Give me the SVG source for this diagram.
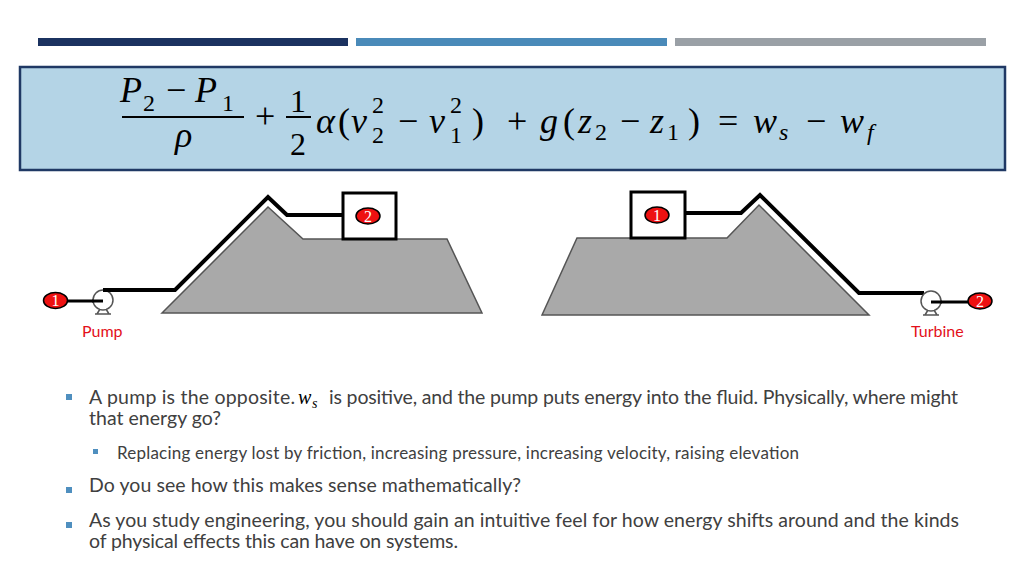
<svg xmlns="http://www.w3.org/2000/svg" width="1024" height="576" viewBox="0 0 1024 576">
<style>
.bar{stroke:none}
.m{font-family:"Liberation Serif","DejaVu Serif",serif;font-size:36px;fill:#000}
.i{font-style:italic}
.s{font-size:24px}
.h{font-size:32px}
.hill{fill:#a9a9a9;stroke:#555;stroke-width:1.5;stroke-linejoin:miter}
.pipe{fill:none;stroke:#000;stroke-width:4;stroke-linejoin:miter}
.tank{fill:#fff;stroke:#000;stroke-width:3}
.pt{fill:#ee1111;stroke:#000;stroke-width:1.5}
.ptn{font-family:"Liberation Serif","DejaVu Serif",serif;font-size:16px;fill:#fff;text-anchor:middle}
.lbl{font-family:"Lato","Open Sans",sans-serif;font-size:16px;fill:#e3101a}
.pump{fill:#fff;stroke:#555;stroke-width:1.5}
.stand{fill:none;stroke:#555;stroke-width:1.5}
.tx{font-family:"Lato","Open Sans",sans-serif;font-size:19.5px;fill:#404040}
.tx2{font-family:"Lato","Open Sans",sans-serif;font-size:17px;fill:#404040}
.bul{fill:#4f8fbf}
</style>

<g id="header-bars">
<rect class="bar" x="38" y="38" width="310" height="8" fill="#1b3260"/>
<rect class="bar" x="356" y="38" width="311" height="8" fill="#4a8ab9"/>
<rect class="bar" x="675" y="38" width="311" height="8" fill="#9aa0a6"/>
</g>

<g id="equation">
<rect x="20" y="67" width="985" height="103" fill="#b4d4e6" stroke="#1f3864" stroke-width="2.5"/>
<text class="m i" x="120" y="102">P</text>
<text class="m s" x="143" y="111">2</text>
<text class="m" x="166" y="102">−</text>
<text class="m i" x="195" y="102">P</text>
<text class="m s" x="222" y="111">1</text>
<line x1="122" y1="117" x2="244" y2="117" stroke="#000" stroke-width="2"/>
<text class="m i" x="175" y="147">ρ</text>
<text class="m" x="255" y="128">+</text>
<text class="m h" x="290" y="112">1</text>
<line x1="286" y1="117" x2="311" y2="117" stroke="#000" stroke-width="2"/>
<text class="m h" x="290" y="155">2</text>
<text class="m i" x="316" y="133">α</text>
<text class="m" x="338" y="133">(</text>
<text class="m i" x="351" y="133">v</text>
<text class="m s" x="372" y="113">2</text>
<text class="m s" x="372" y="143">2</text>
<text class="m" x="398" y="133">−</text>
<text class="m i" x="429" y="133">v</text>
<text class="m s" x="450" y="113">2</text>
<text class="m s" x="450" y="143">1</text>
<text class="m" x="472" y="133">)</text>
<text class="m" x="507" y="133">+</text>
<text class="m i" x="540" y="133">g</text>
<text class="m" x="563" y="133">(</text>
<text class="m i" x="578" y="133">z</text>
<text class="m s" x="595" y="140">2</text>
<text class="m" x="620" y="133">−</text>
<text class="m i" x="650" y="133">z</text>
<text class="m s" x="667" y="140">1</text>
<text class="m" x="688" y="133">)</text>
<text class="m" x="718" y="133">=</text>
<text class="m i" x="753" y="133">w</text>
<text class="m s i" x="779" y="140">s</text>
<text class="m" x="806" y="133">−</text>
<text class="m i" x="840" y="133">w</text>
<text class="m s i" x="867" y="140">f</text>
</g>

<g id="pump-system">
<polygon class="hill" points="162,313 268,207 303,239 447,239 482,313"/>
<g id="connectors-left">
<path class="pipe" d="M103,290 H175 L268,197 L287,215 H343"/>
<line x1="66" y1="301" x2="103" y2="301" stroke="#000" stroke-width="3"/>
</g>
<g id="pump">
<circle class="pump" cx="103" cy="300" r="10"/>
<path class="stand" d="M100,309 L97,314 M106,309 L109,314 M95,314 H111"/>
<line x1="92" y1="301" x2="103" y2="301" stroke="#000" stroke-width="3"/>
<path d="M103,290 H114" stroke="#000" stroke-width="4"/>
<text class="lbl" x="82" y="337">Pump</text>
</g>
<g id="point1-left">
<ellipse class="pt" cx="55.5" cy="300.5" rx="12" ry="8"/>
<text class="ptn" x="55.5" y="306">1</text>
</g>
<g id="tank-left">
<rect class="tank" x="343" y="193" width="53" height="46"/>
<ellipse class="pt" cx="368" cy="216" rx="12" ry="8"/>
<text class="ptn" x="368" y="221.5">2</text>
</g>
</g>

<g id="turbine-system">
<polygon class="hill" points="542,315 577,238 727,238 759,205 869,315"/>
<g id="connectors-right">
<path class="pipe" d="M685,213 H741 L760,195 L859,293 H924"/>
<line x1="931" y1="302" x2="970" y2="302" stroke="#000" stroke-width="3"/>
</g>
<g id="turbine">
<circle class="pump" cx="931" cy="301" r="10"/>
<path class="stand" d="M928,310 L925,315 M934,310 L937,315 M923,315 H939"/>
<line x1="931" y1="302" x2="942" y2="302" stroke="#000" stroke-width="3"/>
<text class="lbl" x="911" y="337">Turbine</text>
</g>
<g id="tank-right">
<rect class="tank" x="631" y="192" width="54" height="46"/>
<ellipse class="pt" cx="657" cy="215" rx="12" ry="8"/>
<text class="ptn" x="657" y="220.5">1</text>
</g>
<g id="point2-right">
<ellipse class="pt" cx="980" cy="301" rx="12" ry="8"/>
<text class="ptn" x="980" y="306.5">2</text>
</g>
</g>

<g id="bullets">
<rect class="bul" x="66" y="394" width="6" height="6"/>
<text class="tx" x="89" y="404" textLength="206" lengthAdjust="spacing">A pump is the opposite.</text>
<text class="m i" x="298" y="404" style="font-size:20px">w</text>
<text class="m i" x="312" y="408" style="font-size:14px">s</text>
<text class="tx" x="329" y="404" textLength="629" lengthAdjust="spacing">is positive, and the pump puts energy into the fluid. Physically, where might</text>
<text class="tx" x="89" y="425" textLength="132" lengthAdjust="spacing">that energy go?</text>
<rect class="bul" x="93" y="449" width="5" height="5"/>
<text class="tx2" x="117" y="459" textLength="682" lengthAdjust="spacing">Replacing energy lost by friction, increasing pressure, increasing velocity, raising elevation</text>
<rect class="bul" x="66" y="487" width="6" height="6"/>
<text class="tx" x="89" y="492" textLength="432" lengthAdjust="spacing">Do you see how this makes sense mathematically?</text>
<rect class="bul" x="66" y="522" width="6" height="6"/>
<text class="tx" x="89" y="527" textLength="870" lengthAdjust="spacing">As you study engineering, you should gain an intuitive feel for how energy shifts around and the kinds</text>
<text class="tx" x="89" y="548" textLength="369" lengthAdjust="spacing">of physical effects this can have on systems.</text>
</g>
</svg>
